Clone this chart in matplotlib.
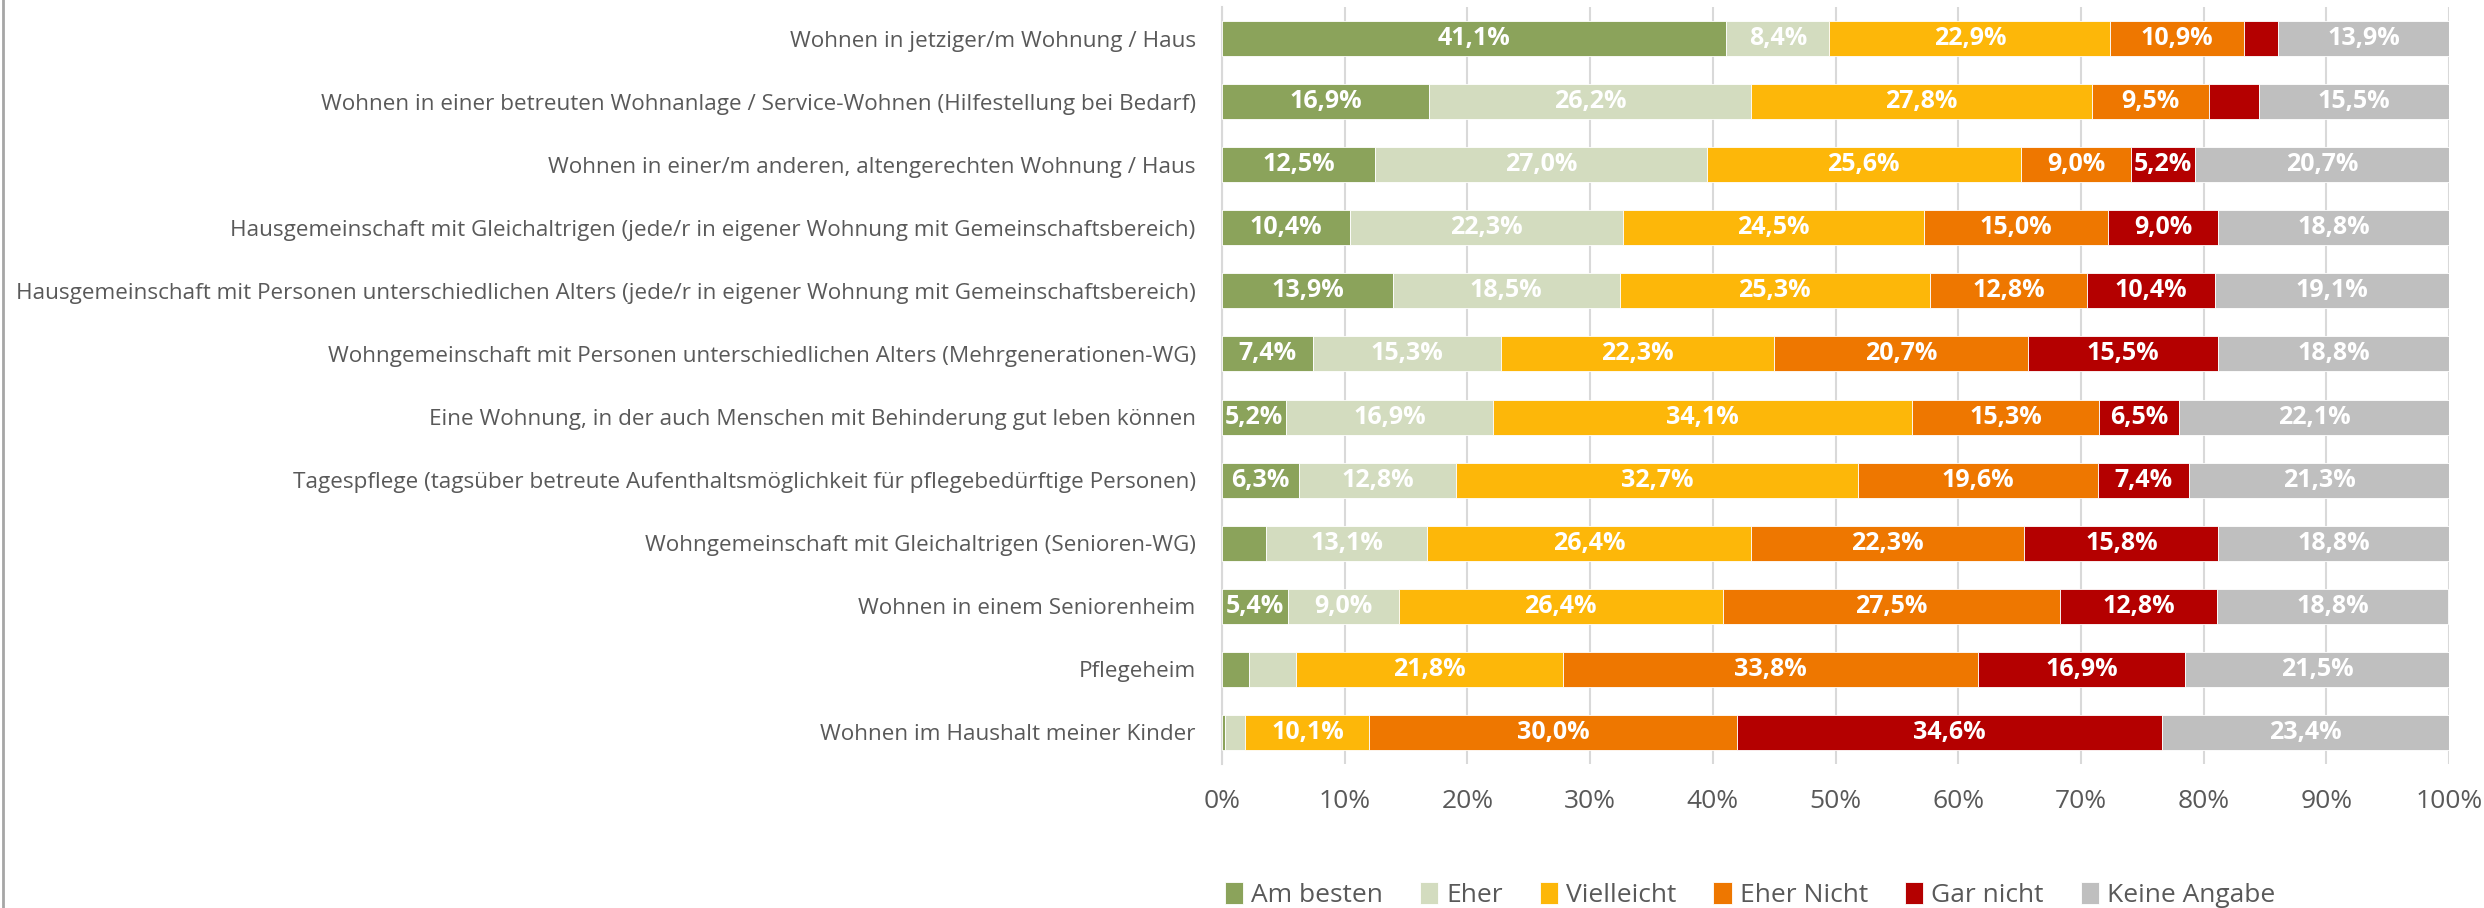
import matplotlib
matplotlib.use("Agg")
import matplotlib.pyplot as plt
from matplotlib.lines import Line2D

plt.rcParams['font.family'] = ['Open Sans', 'DejaVu Sans']

categories = [
    "Wohnen in jetziger/m Wohnung / Haus",
    "Wohnen in einer betreuten Wohnanlage / Service-Wohnen (Hilfestellung bei Bedarf)",
    "Wohnen in einer/m anderen, altengerechten Wohnung / Haus",
    "Hausgemeinschaft mit Gleichaltrigen (jede/r in eigener Wohnung mit Gemeinschaftsbereich)",
    "Hausgemeinschaft mit Personen unterschiedlichen Alters (jede/r in eigener Wohnung mit Gemeinschaftsbereich)",
    "Wohngemeinschaft mit Personen unterschiedlichen Alters (Mehrgenerationen-WG)",
    "Eine Wohnung, in der auch Menschen mit Behinderung gut leben können",
    "Tagespflege (tagsüber betreute Aufenthaltsmöglichkeit für pflegebedürftige Personen)",
    "Wohngemeinschaft mit Gleichaltrigen (Senioren-WG)",
    "Wohnen in einem Seniorenheim",
    "Pflegeheim",
    "Wohnen im Haushalt meiner Kinder",
]

series_names = ["Am besten", "Eher", "Vielleicht", "Eher Nicht", "Gar nicht", "Keine Angabe"]

am_besten    = [41.1, 16.9, 12.5, 10.4, 13.9, 7.4, 5.2, 6.3, 3.6, 5.4, 2.2, 0.2]
eher         = [8.4, 26.2, 27.0, 22.3, 18.5, 15.3, 16.9, 12.8, 13.1, 9.0, 3.8, 1.7]
vielleicht   = [22.9, 27.8, 25.6, 24.5, 25.3, 22.3, 34.1, 32.7, 26.4, 26.4, 21.8, 10.1]
eher_nicht   = [10.9, 9.5, 9.0, 15.0, 12.8, 20.7, 15.3, 19.6, 22.3, 27.5, 33.8, 30.0]
gar_nicht    = [2.8, 4.1, 5.2, 9.0, 10.4, 15.5, 6.5, 7.4, 15.8, 12.8, 16.9, 34.6]
keine_angabe = [13.9, 15.5, 20.7, 18.8, 19.1, 18.8, 22.1, 21.3, 18.8, 18.8, 21.5, 23.4]

colors = ["#8BA35B", "#D3DCBF", "#FDB709", "#EE7700", "#B40000", "#BFBFBF"]

values = [am_besten, eher, vielleicht, eher_nicht, gar_nicht, keine_angabe]

fig = plt.figure(figsize=(24.84, 9.08), dpi=100)
ax = fig.add_axes([0.4920, 0.1586, 0.4939, 0.8337])

y = list(range(len(categories)))
left = [0.0] * len(categories)
for name, vals, col in zip(series_names, values, colors):
    ax.barh(y, vals, left=left, height=0.555, color=col, label=name,
            edgecolor="white", linewidth=0.6, zorder=3)
    for i, v in enumerate(vals):
        # only the wider segments carry a label, as in the original
        if v >= 5:
            ax.text(left[i] + v / 2, i, f"{v:.1f}%".replace(".", ","),
                    ha="center", va="center", color="white", fontsize=18,
                    fontweight="bold", zorder=4)
    left = [l + v for l, v in zip(left, vals)]

ax.set_xlim(0, 100)
ax.set_ylim(len(categories) - 0.5, -0.5)
ax.set_xticks(range(0, 101, 10))
ax.set_xticklabels([f"{t}%" for t in range(0, 101, 10)])
ax.set_yticks(y)
ax.set_yticklabels(categories)
ax.tick_params(axis="x", length=0, pad=18, labelsize=19, labelcolor="#595959")
ax.tick_params(axis="y", length=0, pad=19, labelsize=16.2, labelcolor="#595959")
ax.grid(axis="x", color="#D9D9D9", linewidth=1.5, zorder=0)
ax.set_axisbelow(True)
for s in ["top", "right", "bottom"]:
    ax.spines[s].set_visible(False)
ax.spines["left"].set_color("#D9D9D9")
ax.spines["left"].set_linewidth(1.5)

handles, labels = ax.get_legend_handles_labels()
fig.legend(handles, labels, loc="center", bbox_to_anchor=(0.7045, 0.0143), ncol=6,
           frameon=False, fontsize=19, labelcolor="#595959",
           handlelength=0.7, handleheight=0.9, handletextpad=0.3, columnspacing=1.4)

fig.add_artist(Line2D([0.0012, 0.0012], [0, 1], transform=fig.transFigure,
                      color="#A6A6A6", linewidth=2))

fig.savefig("out.png", dpi=100, facecolor="white")
